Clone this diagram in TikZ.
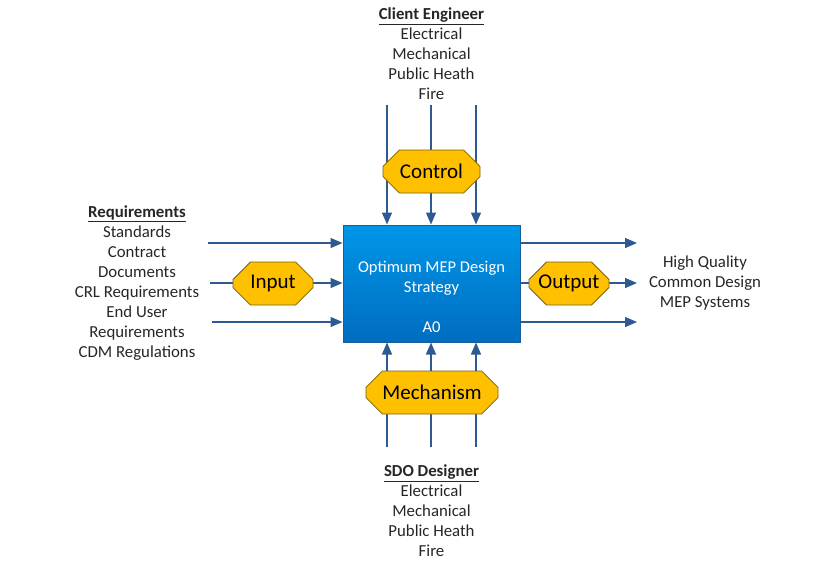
\documentclass[tikz,border=0pt]{standalone}
\usepackage{fontspec}
\setmainfont{Carlito}
\usetikzlibrary{arrows.meta,shapes.misc}
\definecolor{flowblue}{HTML}{2E5A94}
\definecolor{boxtop}{HTML}{0096E8}
\definecolor{boxbottom}{HTML}{006DC0}
\definecolor{boxline}{HTML}{1B5C9E}
\definecolor{tagfill}{HTML}{FFC000}
\definecolor{tagline}{HTML}{7A6010}
\definecolor{textgray}{HTML}{262626}
\tikzset{
	flow/.style={draw=flowblue, line width=1.3pt, -{Triangle[length=12pt,width=10pt]}},
	mainbox/.style={draw=boxline, line width=1pt, top color=boxtop, bottom color=boxbottom, minimum width=177pt, minimum height=117pt, inner sep=0pt},
	tag/.style={chamfered rectangle, chamfered rectangle xsep=9pt, chamfered rectangle ysep=9pt, draw=tagline, line width=0.8pt, fill=tagfill, text=black, inner sep=0pt, font=\fontsize{21}{24}\selectfont},
	label/.style={align=center, text=textgray, font=\fontsize{16.8}{20}\selectfont, inner sep=0pt},
	boxtext/.style={align=center, text=white, font=\fontsize{16.5}{20}\selectfont, inner sep=0pt}
}
\begin{document}
\begin{tikzpicture}[x=1pt,y=-1pt]
	\useasboundingbox (0,0) rectangle (840,565);
	% central function box
	\node[mainbox] (main) at (431.5,283.5) {};
	\node[boxtext] (title) at (431.5,278) {Optimum MEP Design\\Strategy};
	\node[boxtext] (ref) at (431.5,327) {A0};
	% free ends of the arrows
	\coordinate (c1) at (387,105);
	\coordinate (c2) at (431,105);
	\coordinate (c3) at (476,105);
	\coordinate (m1) at (387,447);
	\coordinate (m2) at (431,447);
	\coordinate (m3) at (476,447);
	\coordinate (i1) at (208,243);
	\coordinate (i2) at (210,283);
	\coordinate (i3) at (212,322);
	\coordinate (o1) at (637,243);
	\coordinate (o2) at (637,283);
	\coordinate (o3) at (637,322);
	% controls
	\draw[flow] (c1) -- (c1 |- main.north);
	\draw[flow] (c2) -- (c2 |- main.north);
	\draw[flow] (c3) -- (c3 |- main.north);
	% mechanisms
	\draw[flow] (m1) -- (m1 |- main.south);
	\draw[flow] (m2) -- (m2 |- main.south);
	\draw[flow] (m3) -- (m3 |- main.south);
	% inputs
	\draw[flow] (i1) -- (i1 -| main.west);
	\draw[flow] (i2) -- (i2 -| main.west);
	\draw[flow] (i3) -- (i3 -| main.west);
	% outputs
	\draw[flow] (o1 -| main.east) -- (o1);
	\draw[flow] (o2 -| main.east) -- (o2);
	\draw[flow] (o3 -| main.east) -- (o3);
	% ICOM tags
	\node[tag, minimum width=97pt, minimum height=43pt] (control) at (431.5,171.5) {Control};
	\node[tag, minimum width=132pt, minimum height=43pt] (mechanism) at (432,392.5) {Mechanism};
	\node[tag, minimum width=80pt, minimum height=43pt] (input) at (273,283.5) {Input};
	\node[tag, minimum width=80pt, minimum height=43pt] (output) at (569,283.5) {Output};
	% texts
	\node[label] (client) at (431.5,54) {\underline{\textbf{Client Engineer}}\\Electrical\\Mechanical\\Public Heath\\Fire};
	\node[label] (reqs) at (137,283) {\underline{\textbf{Requirements}}\\Standards\\Contract\\Documents\\CRL Requirements\\End User\\Requirements\\CDM Regulations};
	\node[label] (result) at (705,283) {High Quality\\Common Design\\MEP Systems};
	\node[label] (sdo) at (431.5,511) {\underline{\textbf{SDO Designer}}\\Electrical\\Mechanical\\Public Heath\\Fire};
\end{tikzpicture}
\end{document}
